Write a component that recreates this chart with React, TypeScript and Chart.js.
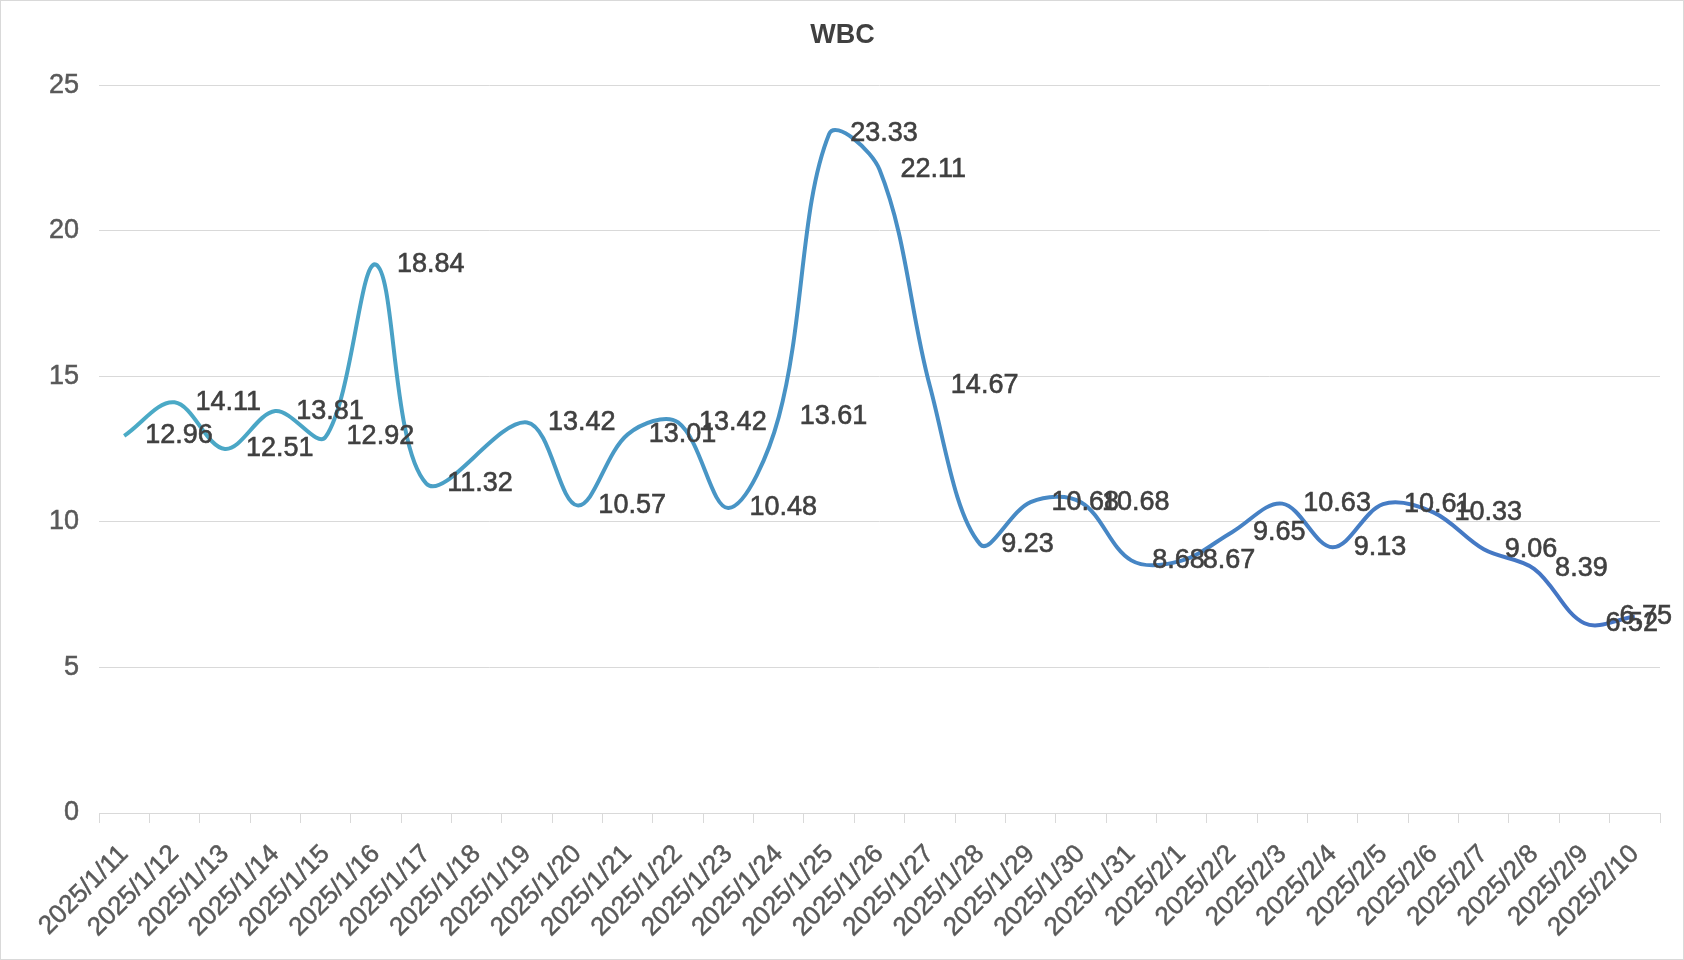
import React, { useEffect, useRef } from "react";
import { Chart, registerables } from "chart.js";

Chart.register(...registerables);

const categories: string[] = [
  "2025/1/11", "2025/1/12", "2025/1/13", "2025/1/14", "2025/1/15", "2025/1/16",
  "2025/1/17", "2025/1/18", "2025/1/19", "2025/1/20", "2025/1/21", "2025/1/22",
  "2025/1/23", "2025/1/24", "2025/1/25", "2025/1/26", "2025/1/27", "2025/1/28",
  "2025/1/29", "2025/1/30", "2025/1/31", "2025/2/1", "2025/2/2", "2025/2/3",
  "2025/2/4", "2025/2/5", "2025/2/6", "2025/2/7", "2025/2/8", "2025/2/9",
  "2025/2/10",
];

const wbcValues: (number | null)[] = [
  12.96, 14.11, 12.51, 13.81, 12.92, 18.84,
  11.32, null, 13.42, 10.57, 13.01, 13.42,
  10.48, 13.61, 23.33, 22.11, 14.67, 9.23,
  10.68, 10.68, 8.68, 8.67, 9.65, 10.63,
  9.13, 10.61, 10.33, 9.06, 8.39, 6.52,
  6.75,
];

const yTicks: number[] = [0, 5, 10, 15, 20, 25];
const titleText = "WBC";
const lineColorStart = "#4BACC6";
const lineColorEnd = "#4472C4";
const FONT = "'Liberation Sans', Arial, sans-serif";

export default function App() {
  const ref = useRef<HTMLCanvasElement>(null);

  useEffect(() => {
    const canvas = ref.current;
    if (!canvas) return;

    const pointLabels = {
      id: "pointLabels",
      afterDatasetsDraw(chart: any) {
        const ctx = chart.ctx as CanvasRenderingContext2D;
        const meta = chart.getDatasetMeta(0);
        ctx.save();
        ctx.font = `27px ${FONT}`;
        ctx.fillStyle = "#404040";
        ctx.strokeStyle = "#404040";
        ctx.lineWidth = 0.6;
        ctx.textAlign = "left";
        ctx.textBaseline = "middle";
        meta.data.forEach((pt: any, i: number) => {
          const v = wbcValues[i];
          if (v === null || v === undefined) return;
          const text = v.toFixed(2);
          const w = ctx.measureText(text).width;
          let x = pt.x + 21;
          if (x + w > chart.width - 11) x = chart.width - 11 - w;
          ctx.fillText(text, x, pt.y);
          ctx.strokeText(text, x, pt.y);
        });
        ctx.restore();
      },
    };

    const chart = new Chart(canvas, {
      type: "line",
      data: {
        labels: categories,
        datasets: [
          {
            label: titleText,
            data: wbcValues,
            borderColor: (c: any) => {
              const ch = c.chart;
              const area = ch.chartArea;
              if (!area) return lineColorStart;
              const g = ch.ctx.createLinearGradient(area.left, 0, area.right, 0);
              g.addColorStop(0, lineColorStart);
              g.addColorStop(1, lineColorEnd);
              return g;
            },
            borderWidth: 4,
            tension: 0.35,
            pointRadius: 0,
            pointHoverRadius: 0,
            spanGaps: true,
            fill: false,
          },
        ],
      },
      options: {
        responsive: false,
        animation: false,
        layout: { padding: { left: 24, right: 23, top: 0, bottom: 0 } },
        plugins: {
          legend: { display: false },
          tooltip: { enabled: false },
          title: {
            display: true,
            text: titleText,
            color: "#404040",
            font: { size: 27, weight: "bold", family: FONT },
            padding: { top: 18, bottom: 34 },
          },
        },
        scales: {
          x: {
            type: "category",
            offset: true,
            grid: {
              offset: true,
              drawOnChartArea: false,
              drawTicks: true,
              tickLength: 10,
              color: "#d9d9d9",
              lineWidth: 1,
            },
            border: { display: true, color: "#d9d9d9", width: 1 },
            ticks: {
              autoSkip: false,
              minRotation: 45,
              maxRotation: 45,
              padding: 16,
              color: "#595959",
              textStrokeColor: "#595959",
              textStrokeWidth: 0.5,
              font: { size: 26, family: FONT },
            },
            afterFit: (s: any) => {
              s.height = 146;
            },
          },
          y: {
            min: yTicks[0],
            max: yTicks[yTicks.length - 1],
            ticks: {
              stepSize: yTicks[1] - yTicks[0],
              padding: 20,
              color: "#595959",
              textStrokeColor: "#595959",
              textStrokeWidth: 0.5,
              font: { size: 27, family: FONT },
            },
            grid: { color: "#d9d9d9", lineWidth: 1, drawTicks: false },
            border: { display: false },
            afterFit: (s: any) => {
              s.width = 74;
            },
          },
        },
      } as any,
      plugins: [pointLabels],
    });

    return () => chart.destroy();
  }, []);

  return (
    <div
      style={{
        position: "absolute",
        left: 0,
        top: 0,
        width: 1684,
        height: 960,
        border: "1px solid #d9d9d9",
        boxSizing: "border-box",
        background: "#ffffff",
      }}
    >
      <canvas ref={ref} width={1682} height={958} style={{ display: "block" }} />
    </div>
  );
}
